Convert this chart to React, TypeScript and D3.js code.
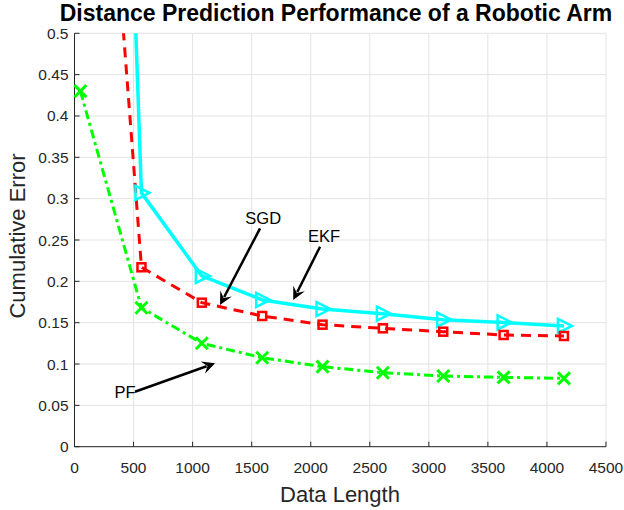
import React from "react";
import * as d3 from "d3";

const xValues = [50, 567, 1078, 1589, 2100, 2611, 3122, 3633, 4144];
const ekf = [2.4, 0.307, 0.2065, 0.1775, 0.1665, 0.1609, 0.1536, 0.1503, 0.146];
const sgd = [1.18, 0.217, 0.1742, 0.1581, 0.1476, 0.1432, 0.1391, 0.1351, 0.1339];
const pf = [0.43, 0.1681, 0.1251, 0.1076, 0.0968, 0.0895, 0.0855, 0.0839, 0.0827];

const xTicks = [0, 500, 1000, 1500, 2000, 2500, 3000, 3500, 4000, 4500];
const yTicks = [0, 0.05, 0.1, 0.15, 0.2, 0.25, 0.3, 0.35, 0.4, 0.45, 0.5];
const yTickLabels = ["0", "0.05", "0.1", "0.15", "0.2", "0.25", "0.3", "0.35", "0.4", "0.45", "0.5"];

// annotations: [label, textX, textY, tailX, tailY, tipX, tipY]
const annotations: [string, number, number, number, number, number, number][] = [
  ["SGD", 1598, 0.2763, 1571, 0.2641, 1232, 0.1714],
  ["EKF", 2112, 0.2548, 2079, 0.2419, 1852, 0.1774],
  ["PF", 428, 0.0665, 512, 0.0665, 1190, 0.1009],
];

const W = 624;
const H = 510;
const L = 74.5, R = 606, T = 33.3, B = 446.7;
const FONT = "'Liberation Sans', Arial, Helvetica, sans-serif";

export default function App() {
  const x = d3.scaleLinear().domain([0, 4500]).range([L, R]);
  const y = d3.scaleLinear().domain([0, 0.5]).range([B, T]);

  const mk = (vals: number[]) =>
    d3.line<number>().x((_, i) => x(xValues[i])).y((v) => y(v))(vals) || "";

  const inPlot = (i: number, vals: number[]) => vals[i] <= 0.5 && vals[i] >= 0;

  const arrowHead = (x1: number, y1: number, x2: number, y2: number) => {
    const ang = Math.atan2(y2 - y1, x2 - x1);
    const len = 13, half = 6.5, notch = 8;
    const ca = Math.cos(ang), sa = Math.sin(ang);
    const p = (a: number, b: number) => [x2 + a * ca - b * sa, y2 + a * sa + b * ca];
    const pts = [p(0, 0), p(-len, half), p(-notch, 0), p(-len, -half)];
    return pts.map((q) => q.join(",")).join(" ");
  };

  return (
    <svg
      width={W}
      height={H}
      style={{ position: "absolute", left: 0, top: 0, background: "#fff" }}
      fontFamily={FONT}
    >
      <defs>
        <clipPath id="plotclip">
          <rect x={L} y={T} width={R - L} height={B - T} />
        </clipPath>
      </defs>
      <rect x={0} y={0} width={W} height={H} fill="#fff" />
      {/* grid */}
      {xTicks.map((t) => (
        <line key={"gx" + t} x1={x(t)} x2={x(t)} y1={T} y2={B} stroke="#e3e3e3" strokeWidth={1} />
      ))}
      {yTicks.map((t) => (
        <line key={"gy" + t} x1={L} x2={R} y1={y(t)} y2={y(t)} stroke="#e3e3e3" strokeWidth={1} />
      ))}
      {/* axes */}
      <line x1={L} x2={L} y1={T} y2={B} stroke="#262626" strokeWidth={1} />
      <line x1={L} x2={R} y1={B} y2={B} stroke="#262626" strokeWidth={1} />
      {xTicks.map((t) => (
        <g key={"xt" + t}>
          <line x1={x(t)} x2={x(t)} y1={B} y2={B - 5} stroke="#262626" strokeWidth={1} />
          <text x={x(t)} y={472.5} textAnchor="middle" fontSize={15.5} fill="#262626">
            {t}
          </text>
        </g>
      ))}
      {yTicks.map((t, i) => (
        <g key={"yt" + t}>
          <line x1={L} x2={L + 5} y1={y(t)} y2={y(t)} stroke="#262626" strokeWidth={1} />
          <text x={68.5} y={y(t) + 5.5} textAnchor="end" fontSize={15.5} fill="#262626">
            {yTickLabels[i]}
          </text>
        </g>
      ))}
      {/* series */}
      <g clipPath="url(#plotclip)">
        <path d={mk(ekf)} fill="none" stroke="#00ffff" strokeWidth={3.5} strokeLinejoin="round" />
        <path d={mk(sgd)} fill="none" stroke="#ff0000" strokeWidth={3} strokeDasharray="10,7" />
        <path d={mk(pf)} fill="none" stroke="#00ff00" strokeWidth={3} strokeDasharray="9,4,3,4" />
      </g>
      {/* markers */}
      {ekf.map((v, i) =>
        inPlot(i, ekf) ? (
          <polygon
            key={"m1" + i}
            points={`${x(xValues[i]) - 6},${y(v) - 7} ${x(xValues[i]) + 8},${y(v)} ${x(xValues[i]) - 6},${y(v) + 7}`}
            fill="none"
            stroke="#00ffff"
            strokeWidth={2.5}
          />
        ) : null
      )}
      {sgd.map((v, i) =>
        inPlot(i, sgd) ? (
          <rect
            key={"m2" + i}
            x={x(xValues[i]) - 4}
            y={y(v) - 4}
            width={8}
            height={8}
            fill="none"
            stroke="#ff0000"
            strokeWidth={2.5}
          />
        ) : null
      )}
      {pf.map((v, i) =>
        inPlot(i, pf) ? (
          <g key={"m3" + i} stroke="#00ff00" strokeWidth={3}>
            <line x1={x(xValues[i]) - 6} y1={y(v) - 6} x2={x(xValues[i]) + 6} y2={y(v) + 6} />
            <line x1={x(xValues[i]) - 6} y1={y(v) + 6} x2={x(xValues[i]) + 6} y2={y(v) - 6} />
          </g>
        ) : null
      )}
      {/* annotations */}
      {annotations.map(([lab, tx, ty, ax, ay, bx, by]) => {
        const x1 = x(ax), y1 = y(ay), x2 = x(bx), y2 = y(by);
        const ang = Math.atan2(y2 - y1, x2 - x1);
        const ex = x2 - 9 * Math.cos(ang), ey = y2 - 9 * Math.sin(ang);
        return (
          <g key={"a" + lab}>
            <line x1={x1} y1={y1} x2={ex} y2={ey} stroke="#000" strokeWidth={2.5} />
            <polygon points={arrowHead(x1, y1, x2, y2)} fill="#000" />
            <text x={x(tx)} y={y(ty) + 6} textAnchor="middle" fontSize={16.5} fill="#000">
              {lab}
            </text>
          </g>
        );
      })}
      {/* labels */}
      <text x={340} y={502} textAnchor="middle" fontSize={22} fill="#262626">
        Data Length
      </text>
      <text
        transform={`translate(25,236) rotate(-90)`}
        textAnchor="middle"
        fontSize={22}
        fill="#262626"
      >
        Cumulative Error
      </text>
      <text x={336} y={21} textAnchor="middle" fontSize={23} fontWeight="bold" fill="#000">
        Distance Prediction Performance of a Robotic Arm
      </text>
    </svg>
  );
}
